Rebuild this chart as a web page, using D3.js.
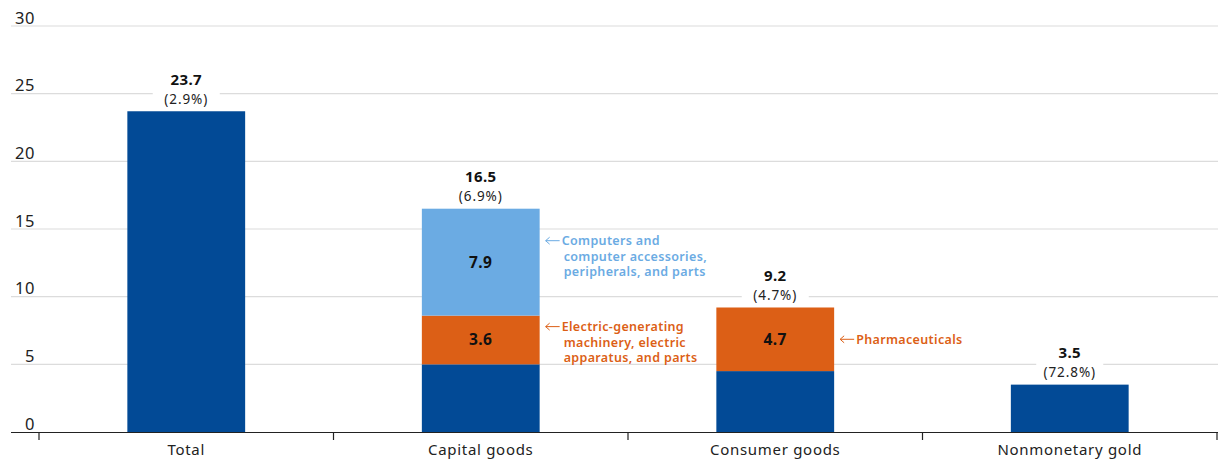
<!DOCTYPE html>
<html>
<head>
<meta charset="utf-8">
<script src="https://cdn.jsdelivr.net/npm/d3@7"></script>
<style>
html,body{margin:0;padding:0;background:#fff;}
svg{display:block;font-family:"Noto Sans","Open Sans",sans-serif;}
</style>
</head>
<body>
<div id="chart"></div>
<script>
const categories = ["Total", "Capital goods", "Consumer goods", "Nonmonetary gold"];
const baseValues = [23.7, 5.0, 4.5, 3.5];
const orangeValues = [0, 3.6, 4.7, 0];
const lightBlueValues = [0, 7.9, 0, 0];
const totalLabels = ["23.7", "16.5", "9.2", "3.5"];
const pctLabels = ["(2.9%)", "(6.9%)", "(4.7%)", "(72.8%)"];
const totals = [23.7, 16.5, 9.2, 3.5];
const yTicks = [0, 5, 10, 15, 20, 25, 30];
const annotations = [
  {cat: "Capital goods", seg: "lightBlue", lines: ["Computers and", "computer accessories,", "peripherals, and parts"]},
  {cat: "Capital goods", seg: "orange", lines: ["Electric-generating", "machinery, electric", "apparatus, and parts"]},
  {cat: "Consumer goods", seg: "orange", lines: ["Pharmaceuticals"]}
];

const W = 1218, H = 461;
const colors = {base: "#024a96", orange: "#dc5f16", lightBlue: "#6babe3"};

const svg = d3.select("#chart").append("svg").attr("width", W).attr("height", H);

const x = d3.scaleBand().domain(categories).range([39, 1217]).paddingInner(0.6).paddingOuter(0.3);
const y = d3.scaleLinear().domain([0, 30]).range([432, 26]);

// gridlines
svg.append("g").selectAll("line").data(yTicks.filter(d => d > 0)).join("line")
  .attr("x1", 11).attr("x2", W).attr("y1", d => y(d)).attr("y2", d => y(d))
  .attr("stroke", "#dcdcdc").attr("stroke-width", 1.2);

// y labels
svg.append("g").selectAll("text").data(yTicks).join("text")
  .attr("x", 35).attr("y", d => y(d) - 2.5).attr("text-anchor", "end")
  .attr("font-size", 16.5).attr("letter-spacing", 0.6).attr("fill", "#222").text(d => d);

// stacked data
const rows = categories.map((c, i) => ({cat: c, base: baseValues[i], orange: orangeValues[i], lightBlue: lightBlueValues[i]}));
const stack = d3.stack().keys(["base", "orange", "lightBlue"])(rows);

const bw = x.bandwidth();
svg.append("g").selectAll("g").data(stack).join("g")
  .attr("fill", d => colors[d.key])
  .selectAll("rect").data(d => d.filter(p => p[1] > p[0])).join("rect")
  .attr("x", d => x(d.data.cat)).attr("width", bw)
  .attr("y", d => y(d[1])).attr("height", d => y(d[0]) - y(d[1]));

// inside labels
stack.filter(s => s.key !== "base").forEach(s => {
  s.filter(p => p[1] > p[0]).forEach(p => {
    svg.append("text").attr("x", x(p.data.cat) + bw / 2).attr("y", (y(p[0]) + y(p[1])) / 2 + 5.5)
      .attr("text-anchor", "middle").attr("font-size", 15.5).attr("font-weight", 700).attr("letter-spacing", 0.4).attr("fill", "#111")
      .text(p.data[s.key].toFixed(1));
  });
});

// top labels
categories.forEach((c, i) => {
  const cx = x(c) + bw / 2, top = y(totals[i]);
  svg.append("rect").attr("x", cx - 33.5).attr("y", top - 42).attr("width", 67).attr("height", 40).attr("fill", "#fff");
  svg.append("text").attr("x", cx).attr("y", top - 26.5).attr("text-anchor", "middle")
    .attr("font-size", 15).attr("font-weight", 700).attr("letter-spacing", 0.4).attr("fill", "#111").text(totalLabels[i]);
  svg.append("text").attr("x", cx).attr("y", top - 7.5).attr("text-anchor", "middle")
    .attr("font-size", 13.5).attr("letter-spacing", 0.9).attr("fill", "#222").text(pctLabels[i]);
});

// axis baseline & ticks
svg.append("line").attr("x1", 11).attr("x2", W).attr("y1", 432.5).attr("y2", 432.5).attr("stroke", "#222").attr("stroke-width", 1.2);
const step = x.step();
const tickXs = categories.map(c => x(c) + bw / 2 - step / 2).concat([x(categories[3]) + bw / 2 + step / 2]);
svg.append("g").selectAll("line").data(tickXs).join("line")
  .attr("x1", d => d).attr("x2", d => d).attr("y1", 432).attr("y2", 440)
  .attr("stroke", "#222").attr("stroke-width", 1.2);
svg.append("g").selectAll("text").data(categories).join("text")
  .attr("x", d => x(d) + bw / 2).attr("y", 455).attr("text-anchor", "middle")
  .attr("font-size", 15).attr("letter-spacing", 0.7).attr("fill", "#222").text(d => d);

// annotations
annotations.forEach(a => {
  const i = categories.indexOf(a.cat);
  const s = stack.find(k => k.key === a.seg)[i];
  const top = y(s[1]);
  const col = colors[a.seg];
  const ax = x(a.cat) + bw + 6;
  let y0;
  if (a.seg === "lightBlue") y0 = top + 32;
  else if (a.lines.length > 1) y0 = top + 11;
  else y0 = (y(s[0]) + y(s[1])) / 2;
  const g = svg.append("g");
  g.append("line").attr("x1", ax).attr("x2", ax + 14).attr("y1", y0).attr("y2", y0).attr("stroke", col).attr("stroke-width", 1);
  g.append("path").attr("d", `M${ax + 4},${y0 - 3.5} L${ax},${y0} L${ax + 4},${y0 + 3.5}`).attr("fill", "none").attr("stroke", col).attr("stroke-width", 1);
  a.lines.forEach((t, j) => {
    g.append("text").attr("x", ax + 16 + (j > 0 ? 2 : 0)).attr("y", y0 + 4.5 + j * 15.5)
      .attr("font-size", 12.5).attr("font-weight", 600).attr("letter-spacing", 0.35).attr("fill", col).text(t);
  });
});
</script>
</body>
</html>
